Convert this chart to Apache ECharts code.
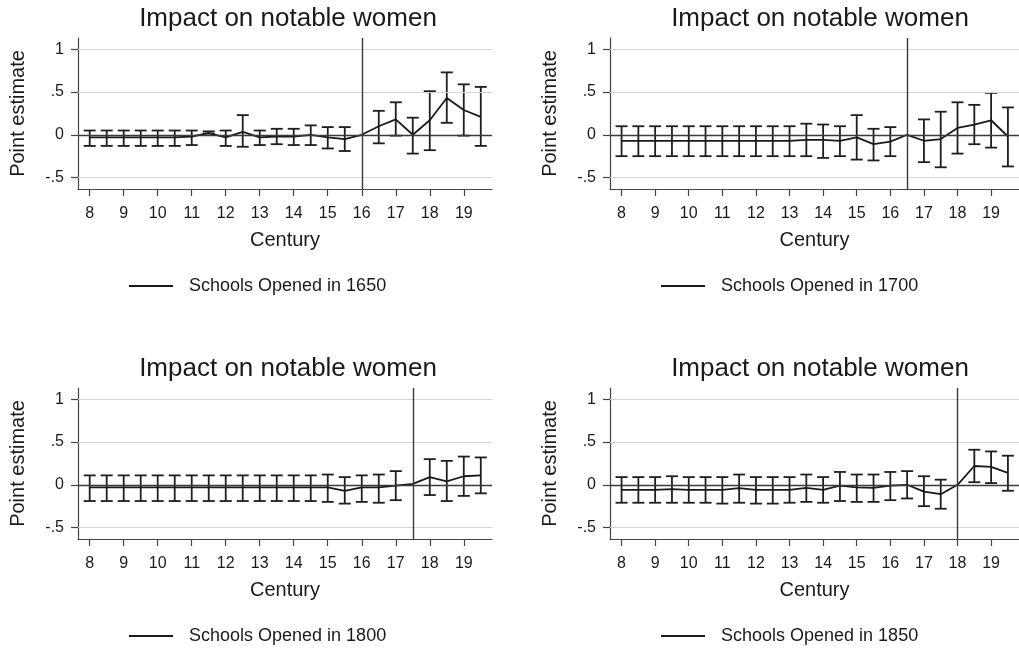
<!DOCTYPE html>
<html>
<head>
<meta charset="utf-8">
<script src="https://cdn.jsdelivr.net/npm/echarts@6/dist/echarts.min.js"></script>
<style>
  html, body { margin: 0; padding: 0; background: #fff; }
  #chart { width: 1019px; height: 650px; }
</style>
</head>
<body>
<div id="chart"></div>
<script>
  // century positions (half-century steps)
  const centuries = [8, 8.5, 9, 9.5, 10, 10.5, 11, 11.5, 12, 12.5, 13, 13.5,
    14, 14.5, 15, 15.5, 16, 16.5, 17, 17.5, 18, 18.5, 19, 19.5];
  const xTicks = [8, 9, 10, 11, 12, 13, 14, 15, 16, 17, 18, 19];
  const yTicks = [-0.5, 0, 0.5, 1];
  const yTickLabels = ['-.5', '0', '.5', '1'];

  const titles = ['Impact on notable women', 'Impact on notable women', 'Impact on notable women', 'Impact on notable women'];
  const legendNames = ['Schools Opened in 1650', 'Schools Opened in 1700', 'Schools Opened in 1800', 'Schools Opened in 1850'];
  const eventLines = [16, 16.5, 17.5, 18];

  // panel 1 - 1650
  const est1650 = [-0.03, -0.03, -0.03, -0.03, -0.03, -0.03, -0.02, 0.02, -0.03, 0.035, -0.03, -0.02,
    -0.02, 0.0, -0.03, -0.05, 0, 0.1, 0.18, 0, 0.17, 0.43, 0.29, 0.21];
  const lo1650 = [-0.13, -0.13, -0.13, -0.13, -0.13, -0.13, -0.12, 0.015, -0.13, -0.14, -0.12, -0.11,
    -0.12, -0.12, -0.16, -0.19, null, -0.1, -0.01, -0.22, -0.18, 0.14, -0.01, -0.13];
  const hi1650 = [0.05, 0.05, 0.05, 0.05, 0.05, 0.05, 0.05, 0.04, 0.05, 0.23, 0.05, 0.07,
    0.07, 0.11, 0.09, 0.09, null, 0.28, 0.38, 0.2, 0.51, 0.73, 0.59, 0.56];

  // panel 2 - 1700
  const est1700 = [-0.07, -0.07, -0.07, -0.07, -0.07, -0.07, -0.07, -0.07, -0.07, -0.07, -0.07, -0.06,
    -0.06, -0.07, -0.03, -0.11, -0.08, 0, -0.07, -0.05, 0.08, 0.12, 0.17, -0.02];
  const lo1700 = [-0.25, -0.25, -0.25, -0.25, -0.25, -0.25, -0.25, -0.25, -0.25, -0.25, -0.25, -0.25,
    -0.27, -0.25, -0.29, -0.3, -0.25, null, -0.32, -0.38, -0.22, -0.11, -0.15, -0.37];
  const hi1700 = [0.1, 0.1, 0.1, 0.1, 0.1, 0.1, 0.1, 0.1, 0.1, 0.1, 0.1, 0.13,
    0.12, 0.1, 0.23, 0.07, 0.09, null, 0.18, 0.27, 0.38, 0.35, 0.49, 0.32];

  // panel 3 - 1800
  const est1800 = [-0.03, -0.03, -0.03, -0.03, -0.03, -0.03, -0.03, -0.03, -0.03, -0.03, -0.03, -0.03,
    -0.03, -0.03, -0.03, -0.07, -0.03, -0.03, -0.01, 0.01, 0.09, 0.04, 0.1, 0.11];
  const lo1800 = [-0.19, -0.19, -0.19, -0.19, -0.19, -0.19, -0.19, -0.19, -0.19, -0.19, -0.19, -0.19,
    -0.19, -0.19, -0.2, -0.22, -0.2, -0.21, -0.18, null, -0.12, -0.19, -0.13, -0.1];
  const hi1800 = [0.11, 0.11, 0.11, 0.11, 0.11, 0.11, 0.11, 0.11, 0.11, 0.11, 0.11, 0.11,
    0.11, 0.11, 0.12, 0.09, 0.11, 0.12, 0.16, null, 0.3, 0.28, 0.33, 0.32];

  // panel 4 - 1850
  const est1850 = [-0.06, -0.06, -0.06, -0.05, -0.06, -0.06, -0.06, -0.04, -0.06, -0.06, -0.06, -0.035,
    -0.06, -0.01, -0.03, -0.035, -0.01, 0, -0.08, -0.11, 0, 0.22, 0.21, 0.14];
  const lo1850 = [-0.21, -0.21, -0.21, -0.21, -0.21, -0.21, -0.22, -0.21, -0.22, -0.22, -0.21, -0.2,
    -0.21, -0.19, -0.2, -0.2, -0.18, -0.16, -0.25, -0.28, null, 0.03, 0.02, -0.07];
  const hi1850 = [0.09, 0.09, 0.09, 0.1, 0.09, 0.09, 0.09, 0.12, 0.09, 0.09, 0.09, 0.12,
    0.09, 0.15, 0.12, 0.12, 0.15, 0.16, 0.1, 0.06, null, 0.41, 0.39, 0.34];

  const estimates = [est1650, est1700, est1800, est1850];
  const lows = [lo1650, lo1700, lo1800, lo1850];
  const highs = [hi1650, hi1700, hi1800, hi1850];

  const FONT = "'Liberation Sans', Arial, sans-serif";
  const TXT = '#1a1a1a';

  // panel boxes
  const panelLeft = [78, 610, 78, 610];
  const panelTop = [38, 38, 388, 388];
  const plotW = 414, plotH = 151;

  const chart = echarts.init(document.getElementById('chart'), null, { renderer: 'canvas' });

  const option = {
    animation: false,
    backgroundColor: '#fff',
    textStyle: { fontFamily: FONT, color: TXT },
    title: [],
    legend: [],
    grid: [],
    xAxis: [],
    yAxis: [],
    series: []
  };

  for (let p = 0; p < 4; p++) {
    option.grid.push({ left: panelLeft[p], top: panelTop[p], width: plotW, height: plotH, containLabel: false });

    option.title.push({
      text: titles[p],
      left: panelLeft[p] + plotW / 2 + 3,
      top: panelTop[p] - 32,
      textAlign: 'center',
      padding: 0,
      textStyle: { fontFamily: FONT, fontSize: 26, fontWeight: 'normal', color: TXT }
    });

    // plain line key, like the Stata legend
    option.legend.push({
      data: [{ name: legendNames[p], icon: 'rect' }],
      left: panelLeft[p] + 51,
      top: panelTop[p] + 239,
      padding: 0,
      itemWidth: 44,
      itemHeight: 2,
      textStyle: { fontFamily: FONT, fontSize: 18, color: TXT, padding: [0, 0, 0, 11] },
      selectedMode: false
    });

    option.xAxis.push({
      type: 'value',
      gridIndex: p,
      min: 7.656,
      max: 19.83,
      name: 'Century',
      nameLocation: 'middle',
      nameGap: 41,
      nameTextStyle: { fontFamily: FONT, fontSize: 20, color: TXT },
      axisLine: { show: true, onZero: false, lineStyle: { color: '#444', width: 1.2 } },
      axisTick: { show: true, length: 7, customValues: xTicks, lineStyle: { color: '#444', width: 1.2 } },
      axisLabel: { customValues: xTicks, margin: 17, fontFamily: FONT, fontSize: 16, color: TXT },
      splitLine: { show: false }
    });

    option.yAxis.push({
      type: 'value',
      gridIndex: p,
      min: -0.634,
      max: 1.132,
      name: 'Point estimate',
      nameLocation: 'middle',
      nameRotate: 90,
      nameGap: 50,
      nameTextStyle: { fontFamily: FONT, fontSize: 20, color: TXT },
      axisLine: { show: true, onZero: false, lineStyle: { color: '#444', width: 1.2 } },
      axisTick: { show: true, length: 7, customValues: yTicks, lineStyle: { color: '#444', width: 1.2 } },
      axisLabel: {
        customValues: yTicks, margin: 14, fontFamily: FONT, fontSize: 16, color: TXT,
        formatter: function (v) {
          const i = yTicks.findIndex(t => Math.abs(t - v) < 1e-6);
          return i >= 0 ? yTickLabels[i] : '';
        }
      },
      splitLine: { show: false }
    });

    // gridlines + zero line + event line
    option.series.push({
      type: 'line',
      name: 'guides' + p,
      xAxisIndex: p,
      yAxisIndex: p,
      data: [],
      z: 1,
      silent: true,
      markLine: {
        silent: true,
        symbol: 'none',
        label: { show: false },
        data: [
          { yAxis: -0.5, lineStyle: { color: '#d4d4d4', width: 1, type: 'solid' } },
          { yAxis: 0.5, lineStyle: { color: '#d4d4d4', width: 1, type: 'solid' } },
          { yAxis: 1, lineStyle: { color: '#d4d4d4', width: 1, type: 'solid' } },
          { yAxis: 0, lineStyle: { color: '#3a3a3a', width: 1.4, type: 'solid' } },
          { xAxis: eventLines[p], lineStyle: { color: '#3a3a3a', width: 1.4, type: 'solid' } }
        ]
      }
    });

    // confidence intervals
    const ciData = [];
    for (let i = 0; i < centuries.length; i++) {
      if (lows[p][i] === null) continue;
      ciData.push([centuries[i], lows[p][i], highs[p][i]]);
    }
    option.series.push({
      type: 'custom',
      name: 'ci' + p,
      xAxisIndex: p,
      yAxisIndex: p,
      z: 3,
      silent: true,
      data: ciData,
      renderItem: function (params, api) {
        const lo = api.coord([api.value(0), api.value(1)]);
        const hi = api.coord([api.value(0), api.value(2)]);
        const w = 6;
        const st = { stroke: '#1e1e1e', lineWidth: 1.8, fill: null };
        return {
          type: 'group',
          children: [
            { type: 'line', shape: { x1: lo[0], y1: lo[1], x2: hi[0], y2: hi[1] }, style: st },
            { type: 'line', shape: { x1: lo[0] - w, y1: lo[1], x2: lo[0] + w, y2: lo[1] }, style: st },
            { type: 'line', shape: { x1: hi[0] - w, y1: hi[1], x2: hi[0] + w, y2: hi[1] }, style: st }
          ]
        };
      }
    });

    // point estimates
    option.series.push({
      type: 'line',
      name: legendNames[p],
      xAxisIndex: p,
      yAxisIndex: p,
      z: 4,
      symbol: 'none',
      showSymbol: false,
      lineStyle: { color: '#1a1a1a', width: 1.8 },
      itemStyle: { color: '#1a1a1a' },
      data: centuries.map((c, i) => [c, estimates[p][i]])
    });
  }

  chart.setOption(option);
</script>
</body>
</html>
